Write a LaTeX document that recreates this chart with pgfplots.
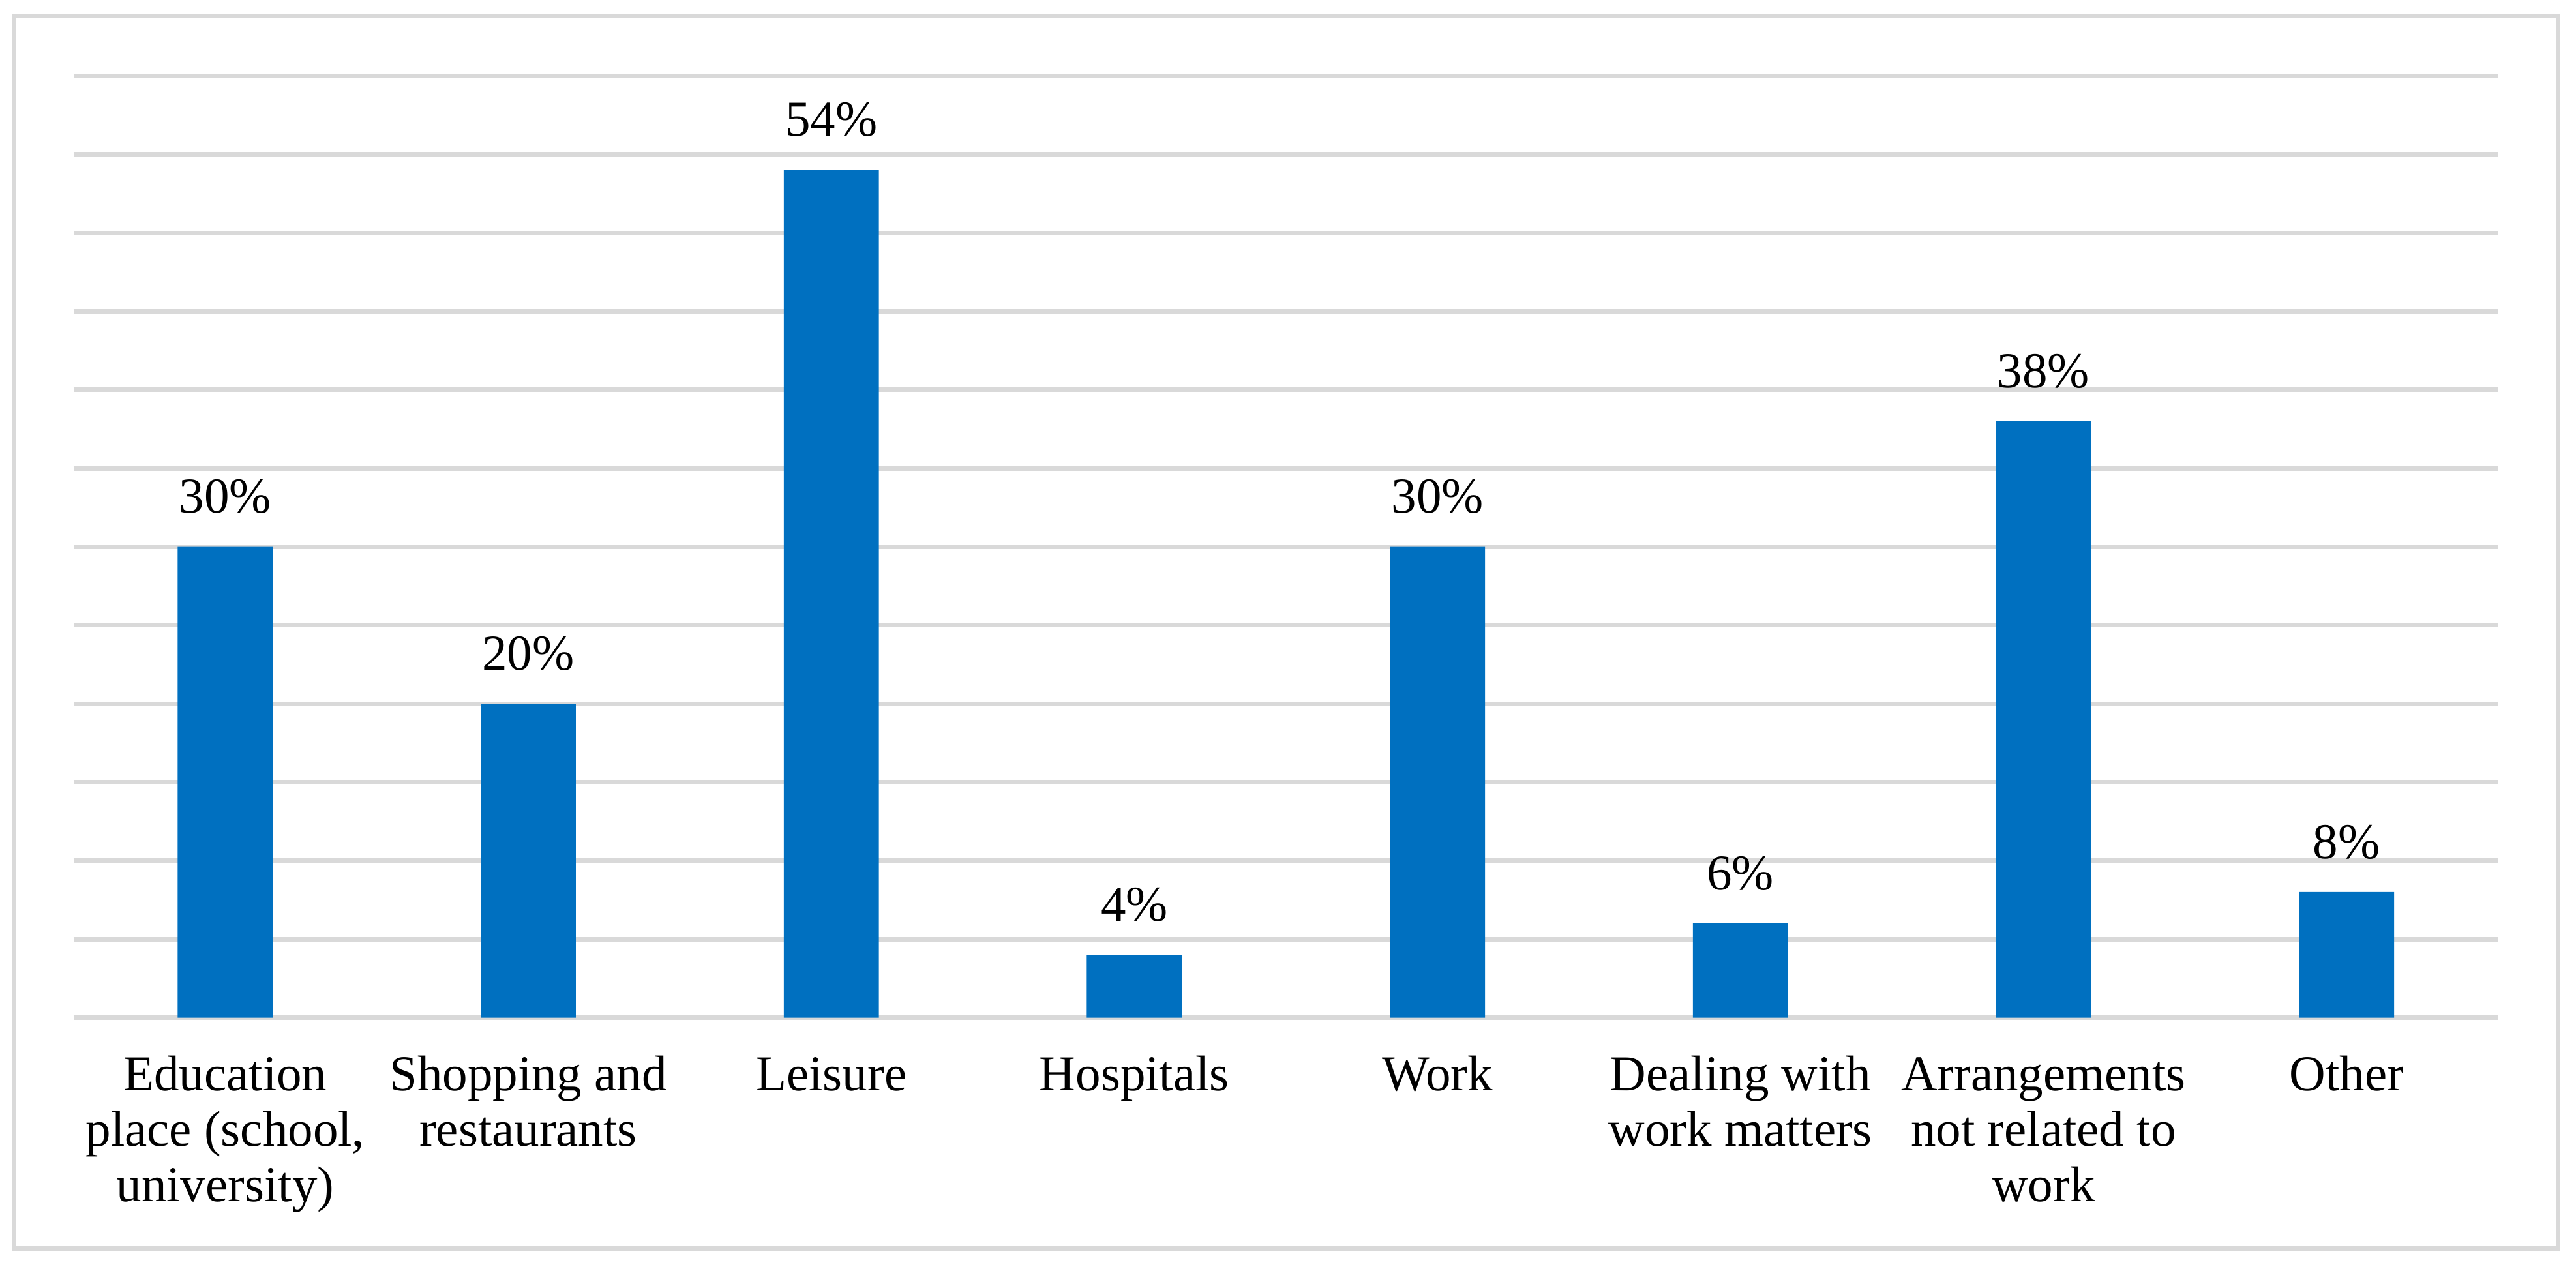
\documentclass[border=0pt]{standalone}
\usepackage{fontspec}
\setmainfont{Liberation Serif}
\usepackage{pgfplots}
\pgfplotsset{compat=1.18}
\definecolor{barblue}{HTML}{0070C0}
\definecolor{gridgray}{HTML}{D9D9D9}
% multi-line category label, baseline on its first line
\newcommand{\lbl}[1]{\begin{tabular}[t]{@{}c@{}}#1\end{tabular}}
\begin{document}
\begin{tikzpicture}
\useasboundingbox (-14.675pt,-50.06pt) rectangle (498.31pt,202.66pt);
% outer chart frame
\draw[gridgray, line width=0.91pt] (-11.88pt,-45.97pt) rectangle (494.74pt,199.48pt);
\begin{axis}[
at={(0,0)}, anchor=south west,
scale only axis,
width=482.8pt,
height=187.53pt,
font=\fontsize{10}{11.04}\selectfont,
/pgf/number format/assume math mode=true,
ybar,
bar width=0.314,
xmin=-0.5, xmax=7.5,
ymin=0, ymax=60,
ytick={0,5,...,60},
yticklabels={},
xtick=data,
xticklabels={\lbl{Education\\place (school,\\university)}, \lbl{Shopping and\\restaurants}, \lbl{Leisure}, \lbl{Hospitals}, \lbl{Work}, \lbl{Dealing with\\work matters}, \lbl{Arrangements\\not related to\\work}, \lbl{Other}},
xticklabel style={anchor=base, yshift=-14.48pt, inner sep=0pt, font=\fontsize{10}{11.04}\selectfont},
major tick length=0pt,
axis line style={draw=none},
ymajorgrids,
grid style={gridgray, line width=0.91pt},
nodes near coords={\pgfmathprintnumber{\pgfplotspointmeta}\%},
every node near coord/.append style={anchor=base, inner sep=0pt, yshift=6.75pt, font=\fontsize{10}{11.04}\selectfont, text=black},
]
\addplot[fill=barblue, draw=none] coordinates {(0,30) (1,20) (2,54) (3,4) (4,30) (5,6) (6,38) (7,8)};
\end{axis}
\end{tikzpicture}
\end{document}
